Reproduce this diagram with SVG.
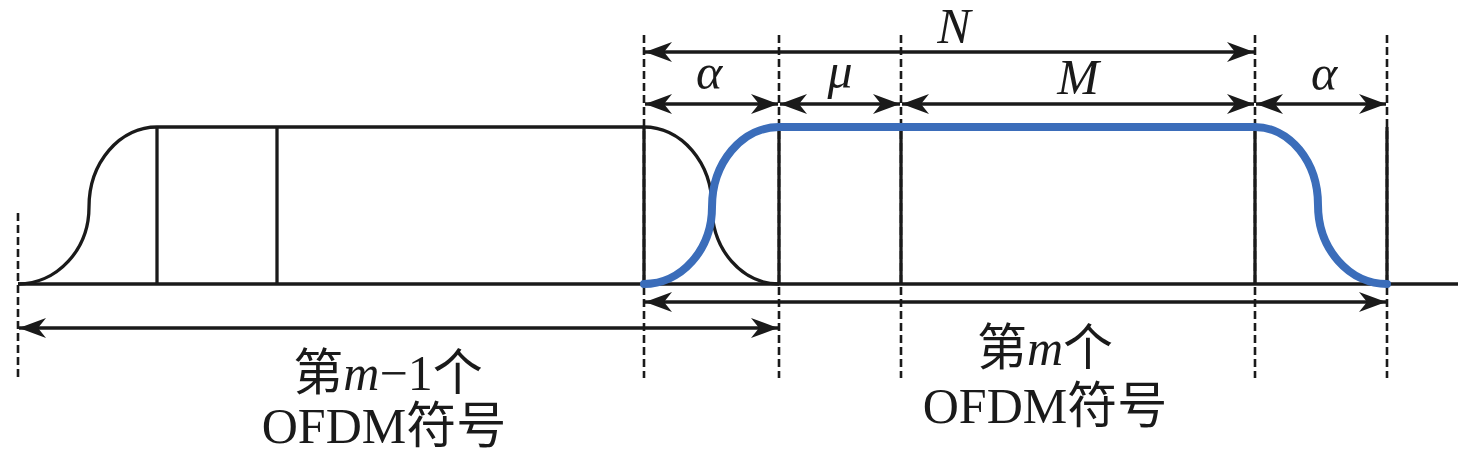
<svg xmlns="http://www.w3.org/2000/svg" width="1476" height="471" viewBox="0 0 1476 471">
<style>
.ln{stroke:#1a1a1a;stroke-width:3.3;fill:none}
.dash{stroke:#1a1a1a;stroke-width:2.6;stroke-dasharray:8 4;fill:none}
.blue{stroke:#3B6DBA;stroke-width:8;fill:none;stroke-linecap:round;stroke-linejoin:round}
.arr{stroke:#1a1a1a;stroke-width:3.3;fill:none;marker-start:url(#ah);marker-end:url(#ah)}
.math{font-family:"Liberation Serif",serif;font-style:italic;font-size:50px;fill:#1a1a1a}
.lbl{font-family:"Liberation Serif","Noto Sans CJK SC",serif;font-size:50px;fill:#1a1a1a}
</style>
<defs>
<marker id="ah" markerUnits="userSpaceOnUse" markerWidth="30" markerHeight="24" viewBox="-28 -12 30 24" refX="0" refY="0" orient="auto-start-reverse">
<path d="M0,0 L-27,-10 L-19,0 L-27,10 Z" fill="#1a1a1a"/>
</marker>
</defs>
<g id="guides">
<line class="dash" x1="18" y1="213" x2="18" y2="378"/>
<line class="dash" x1="644" y1="35" x2="644" y2="378"/>
<line class="dash" x1="779" y1="35" x2="779" y2="378"/>
<line class="dash" x1="901" y1="35" x2="901" y2="378"/>
<line class="dash" x1="1255" y1="35" x2="1255" y2="378"/>
<line class="dash" x1="1387" y1="35" x2="1387" y2="378"/>
</g>
<g id="symbol-prev">
<line class="ln" x1="18" y1="284" x2="1458" y2="284"/>
<path class="ln" d="M18 284 A71 77 0 0 0 89 207 A68 80 0 0 1 157 127 L644 127"/>
<line class="ln" x1="157" y1="127" x2="157" y2="284"/>
<line class="ln" x1="277" y1="127" x2="277" y2="284"/>
<line class="ln" x1="644" y1="127" x2="644" y2="284"/>
<path class="ln" d="M644 127 A68 80 0 0 1 712 207 A67 77 0 0 0 779 284"/>
</g>
<g id="symbol-cur">
<line class="ln" x1="779" y1="127" x2="779" y2="284"/>
<line class="ln" x1="901" y1="127" x2="901" y2="284"/>
<line class="ln" x1="1255" y1="127" x2="1255" y2="284"/>
<line class="ln" x1="1387" y1="127" x2="1387" y2="284"/>
<path class="blue" d="M644 284 A68 77 0 0 0 712 207 A67 80 0 0 1 779 127 L1255 127 A63 78 0 0 1 1318 205 A69 79 0 0 0 1387 284"/>
</g>
<g id="connectors">
<line class="arr" x1="645" y1="52" x2="1254" y2="52"/>
<line class="arr" x1="645" y1="104" x2="778" y2="104"/>
<line class="arr" x1="780" y1="104" x2="900" y2="104"/>
<line class="arr" x1="902" y1="104" x2="1254" y2="104"/>
<line class="arr" x1="1256" y1="104" x2="1386" y2="104"/>
<line class="arr" x1="645" y1="302" x2="1386" y2="302"/>
<line class="arr" x1="19" y1="328" x2="778" y2="328"/>
</g>
<g id="labels">
<text class="math" x="954" y="43" text-anchor="middle">N</text>
<text class="math" x="709" y="89" text-anchor="middle">α</text>
<text class="math" x="840" y="88" text-anchor="middle">μ</text>
<text class="math" x="1078" y="94" text-anchor="middle">M</text>
<text class="math" x="1324" y="90" text-anchor="middle">α</text>
<text class="lbl" x="388" y="390" text-anchor="middle">第<tspan font-style="italic">m</tspan>−1个</text>
<text class="lbl" x="384" y="443" text-anchor="middle">OFDM符号</text>
<text class="lbl" x="1045" y="365" text-anchor="middle">第<tspan font-style="italic">m</tspan>个</text>
<text class="lbl" x="1045" y="423" text-anchor="middle">OFDM符号</text>
</g>
</svg>
